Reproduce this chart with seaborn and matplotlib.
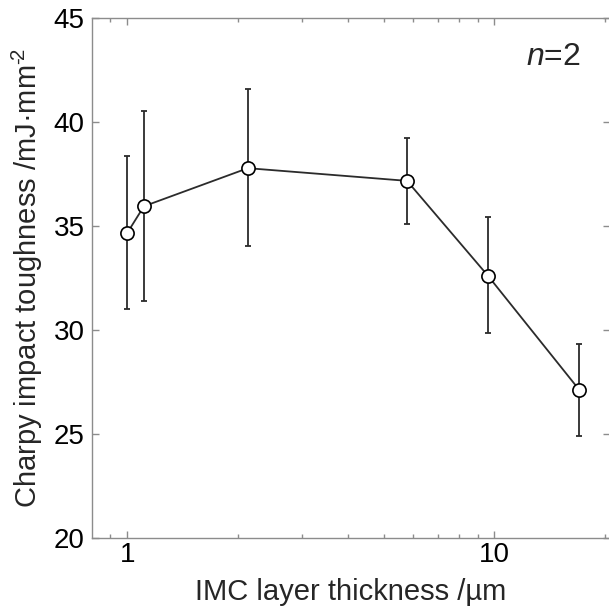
import numpy as np
import pandas as pd
import seaborn as sns
import matplotlib
matplotlib.use('Agg')
import matplotlib.pyplot as plt
from matplotlib.ticker import FixedLocator, NullFormatter

# data
thickness = [1.0, 1.11, 2.13, 5.78, 9.6, 17.0]
toughness = [34.66, 35.94, 37.77, 37.16, 32.60, 27.13]
err_low = [31.02, 31.37, 34.02, 35.08, 29.84, 24.89]
err_high = [38.35, 40.52, 41.57, 39.23, 35.40, 29.31]

df = pd.DataFrame({'x': thickness, 'y': toughness})
yerr = [np.array(toughness) - np.array(err_low), np.array(err_high) - np.array(toughness)]

sns.set_style('ticks')
plt.rcParams['font.family'] = ['Liberation Sans', 'DejaVu Sans']
plt.rcParams['mathtext.fontset'] = 'custom'
plt.rcParams['mathtext.rm'] = 'Liberation Sans'
plt.rcParams['mathtext.it'] = 'Liberation Sans:italic'

spine_col = '#8c8c8c'
line_col = '#2b2b2b'

fig = plt.figure(figsize=(6.09, 6.07), dpi=100)
ax = fig.add_axes([91.7 / 609, 1 - 538 / 607, 518 / 609, 520.3 / 607])

ax.errorbar(thickness, toughness, yerr=yerr, fmt='none', ecolor=line_col,
            elinewidth=1.3, capsize=2.5, capthick=1.3, zorder=2)
sns.lineplot(df, x='x', y='y', ax=ax, color=line_col, linewidth=1.3,
             marker='o', markersize=9.5, markerfacecolor='white',
             markeredgecolor='black', markeredgewidth=1.2, zorder=3)

ax.set_xscale('log')
ax.set_xlim(0.8, 20.6)
ax.set_ylim(20, 45)
ax.set_yticks([20, 25, 30, 35, 40, 45])
ax.xaxis.set_major_locator(FixedLocator([1, 10]))
ax.xaxis.set_minor_locator(FixedLocator([0.9, 2, 3, 4, 5, 6, 7, 8, 9, 20]))
ax.xaxis.set_minor_formatter(NullFormatter())
ax.set_xticklabels(['1', '10'])

for s in ax.spines.values():
    s.set_color(spine_col)
    s.set_linewidth(1.0)
ax.tick_params(which='both', direction='in', color=spine_col, top=True, right=True,
               labelsize=20, labelcolor='black', width=1.0)
ax.tick_params(which='major', length=5)
ax.tick_params(which='minor', length=3)
ax.tick_params(axis='x', which='major', pad=3)
ax.tick_params(axis='y', which='major', pad=5)

ax.set_xlabel('IMC layer thickness /\u00b5m', fontsize=21, labelpad=7)
ax.set_ylabel('Charpy impact toughness /mJ\u00b7mm$^{\u2010\\!2}$', fontsize=21, labelpad=6)
ax.text(0.944, 0.91, '$\\mathit{n}$=2', transform=ax.transAxes, ha='right', va='baseline',
        fontsize=23)

plt.savefig('out.png', dpi=100)
